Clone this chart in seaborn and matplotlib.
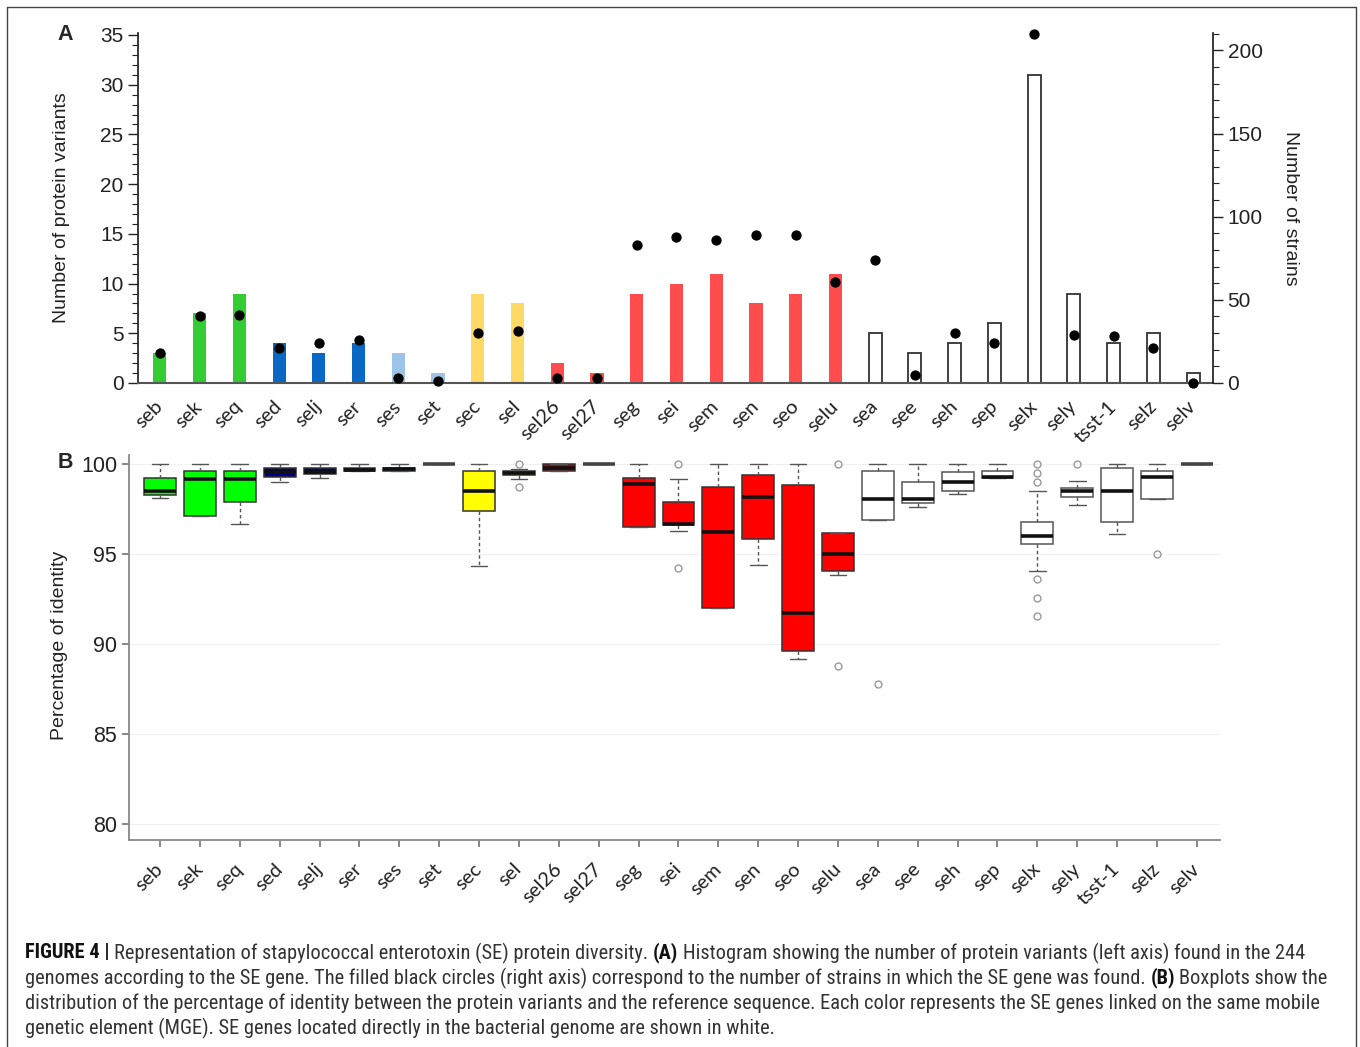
import numpy as np
import pandas as pd
import matplotlib
matplotlib.use('Agg')
import matplotlib.pyplot as plt
import seaborn as sns
from matplotlib import font_manager
from matplotlib.lines import Line2D
from matplotlib.ticker import MultipleLocator

# genes in plot order
genes = ['seb', 'sek', 'seq', 'sed', 'selj', 'ser', 'ses', 'set', 'sec', 'sel',
         'sel26', 'sel27', 'seg', 'sei', 'sem', 'sen', 'seo', 'selu', 'sea', 'see',
         'seh', 'sep', 'selx', 'sely', 'tsst-1', 'selz', 'selv']

# panel A
variants = [3, 7, 9, 4, 3, 4, 3, 1, 9, 8, 2, 1, 9, 10, 11, 8, 9, 11, 5, 3, 4, 6, 31, 9, 4, 5, 1]
strains = [18, 40, 41, 21, 24, 26, 3, 1, 30, 31, 3, 3, 83, 88, 86, 89, 89, 61, 74, 5,
           30, 24, 210, 29, 28, 21, 0]
bar_colors = (['#33cc33'] * 3 + ['#0868c4'] * 3 + ['#9dc3e6'] * 2 + ['#ffd966'] * 2
              + ['#ff4d4d'] * 8 + ['white'] * 9)

# panel B box statistics (percentage of identity)
whislo = [98.1, 97.1, 96.67, 99.0, 99.2, 99.6, 99.6, 100, 94.33, 99.17, 99.6, 100,
          96.48, 96.28, 91.98, 94.39, 89.17, 93.83, 96.89, 97.63, 98.33, 99.2, 94.06,
          97.72, 96.09, 98.04, 100]
q1 = [98.3, 97.1, 97.9, 99.3, 99.43, 99.6, 99.6, 100, 97.4, 99.39, 99.6, 100,
      96.48, 96.6, 91.98, 95.81, 89.63, 94.06, 96.89, 97.85, 98.52, 99.2, 95.54,
      98.19, 96.8, 98.04, 100]
med = [98.5, 99.17, 99.17, 99.57, 99.57, 99.65, 99.7, 100, 98.5, 99.52, 99.8, 100,
       98.87, 96.67, 96.2, 98.19, 91.7, 95.0, 98.04, 98.04, 98.98, 99.26, 96.02,
       98.52, 98.52, 99.26, 100]
q3 = [99.2, 99.6, 99.6, 99.8, 99.8, 99.8, 99.8, 100, 99.6, 99.63, 100, 100,
      99.2, 97.9, 98.74, 99.39, 98.83, 96.15, 99.63, 99.02, 99.57, 99.63, 96.76,
      98.65, 99.76, 99.63, 100]
whishi = [100, 100, 100, 100, 100, 100, 100, 100, 100, 99.7, 100, 100,
          100, 99.17, 100, 100, 100, 96.15, 100, 100, 100, 100, 98.5,
          99.07, 100, 100, 100]
fliers = [[], [], [], [], [], [], [], [], [], [100, 98.74], [], [],
          [], [100, 94.2], [], [], [], [100, 88.78], [87.8], [], [], [],
          [100, 99.48, 98.98, 93.59, 92.57, 91.57], [100], [], [94.98], []]
box_colors = (['#00ff00'] * 3 + ['#000080'] * 3 + ['#3a9ad9', 'white'] + ['#ffff00'] * 2
              + ['#c00000', 'white'] + ['#ff0000'] * 6 + ['white'] * 9)

caption = [
    [('FIGURE 4 |', True), ('Representation of stapylococcal enterotoxin (SE) protein diversity.', False),
     ('(A)', True), ('Histogram showing the number of protein variants (left axis) found in the 244', False)],
    [('genomes according to the SE gene. The filled black circles (right axis) correspond to the number '
      'of strains in which the SE gene was found.', False), ('(B)', True), ('Boxplots show the', False)],
    [('distribution of the percentage of identity between the protein variants and the reference '
      'sequence. Each color represents the SE genes linked on the same mobile', False)],
    [('genetic element (MGE). SE genes located directly in the bacterial genome are shown in white.', False)],
]

sns.set_theme(style='white')
plt.rcParams['font.family'] = ['Liberation Sans', 'DejaVu Sans']
installed = {f.name for f in font_manager.fontManager.ttflist}
cap_font = next((f for f in ['Liberation Sans Narrow', 'Roboto Condensed', 'Open Sans Condensed']
                 if f in installed), 'Liberation Sans')
lab_font = 'Lato' if 'Lato' in installed else 'Liberation Sans'

W, H = 1360, 1047
fig = plt.figure(figsize=(W / 100, H / 100), dpi=100)

def fbox(l, t, r, b):
    return [l / W, 1 - b / H, (r - l) / W, (b - t) / H]

n = len(genes)
df = pd.DataFrame({'gene': genes, 'pos': np.arange(n), 'variants': variants, 'strains': strains})

# ---------------- panel A
ax = fig.add_axes(fbox(138, 33, 1213, 383))
sns.barplot(data=df, x='gene', y='variants', hue='gene', palette=dict(zip(genes, bar_colors)),
            legend=False, width=0.33, ax=ax, saturation=1)
for bar, c in zip(ax.patches, bar_colors):
    if c == 'white':
        bar.set_edgecolor('#333333')
        bar.set_linewidth(1.3)
    else:
        bar.set_edgecolor('none')
ax.set_xlim(-0.55, n - 0.5)
ax.set_ylim(0, 35.2)
ax.yaxis.set_major_locator(MultipleLocator(5))
ax.yaxis.set_minor_locator(MultipleLocator(1))
ax.tick_params(axis='y', which='major', length=7, width=1, color='#222', labelsize=15,
               left=True, labelcolor='#222')
ax.tick_params(axis='y', which='minor', length=4, width=0.8, color='#222', left=True)
ax.set_xticks(range(n))
ax.set_xticklabels(genes, rotation=45, ha='right', va='center', rotation_mode='anchor',
                   fontsize=14.5, family=lab_font, color='#222')
ax.tick_params(axis='x', length=0, pad=15)
ax.set_xlabel('')
ax.set_ylabel('Number of protein variants', fontsize=14, color='#222')
ax.yaxis.set_label_coords(-0.063, 0.5)
for s in ['top', 'right']:
    ax.spines[s].set_visible(False)
ax.spines['left'].set_color('#222')
ax.spines['bottom'].set_color('#555')
ax.spines['bottom'].set_linewidth(1.5)

ax2 = ax.twinx()
sns.scatterplot(data=df, x='pos', y='strains', color='black', s=55, linewidth=0,
                ax=ax2, clip_on=False, zorder=5)
ax2.set_xlim(-0.55, n - 0.5)
ax2.set_ylim(0, 210.5)
ax2.yaxis.set_major_locator(MultipleLocator(50))
ax2.yaxis.set_minor_locator(MultipleLocator(10))
ax2.tick_params(axis='y', which='major', length=7, width=1, color='#222', labelsize=15,
                right=True, labelcolor='#222')
ax2.tick_params(axis='y', which='minor', length=4, width=0.8, color='#222', right=True)
ax2.set_xlabel('')
ax2.set_ylabel('Number of strains', fontsize=14, rotation=270, color='#222', va='center')
ax2.yaxis.set_label_coords(1.072, 0.5)
for s in ['top', 'left', 'bottom']:
    ax2.spines[s].set_visible(False)
ax2.spines['right'].set_color('#222')

# ---------------- panel B
bx = fig.add_axes(fbox(129, 455, 1220, 840))
stats = [dict(whislo=a, q1=b, med=c, q3=d, whishi=e, fliers=f)
         for a, b, c, d, e, f in zip(whislo, q1, med, q3, whishi, fliers)]
res = bx.bxp(stats, positions=range(n), widths=0.8, capwidths=0.42, patch_artist=True,
             boxprops=dict(edgecolor='#333', linewidth=1.1),
             medianprops=dict(color='#111', linewidth=2.6),
             whiskerprops=dict(color='#555', linestyle=(0, (2.5, 2)), linewidth=1),
             capprops=dict(color='#555', linewidth=1),
             flierprops=dict(marker='o', markerfacecolor='none', markeredgecolor='#999',
                             markersize=5, markeredgewidth=1),
             manage_ticks=False)
for patch, c in zip(res['boxes'], box_colors):
    patch.set_facecolor(c)
    if c == 'white':
        patch.set_edgecolor('#555')
for i, m in enumerate(res['medians']):
    if q1[i] == q3[i] == 100:
        m.set_color('#444')
bx.set_xlim(-0.78, n - 0.42)
bx.set_ylim(79.11, 100.5)
bx.set_yticks([80, 85, 90, 95, 100])
bx.yaxis.grid(True, color='#f0f0f0', linewidth=0.8)
bx.set_axisbelow(True)
bx.set_xticks(range(n))
bx.set_xticklabels(genes, rotation=45, ha='right', va='center', rotation_mode='anchor',
                   fontsize=14.5, family=lab_font, color='#222')
bx.tick_params(axis='x', length=5, color='#777', pad=14, bottom=True)
bx.tick_params(axis='y', length=5, color='#777', labelsize=15.5, left=True, labelcolor='#222')
bx.set_ylabel('Percentage of identity', fontsize=14, color='#222')
bx.yaxis.set_label_coords(-0.056, 0.506)
for s in ['top', 'right']:
    bx.spines[s].set_visible(False)
for s in ['left', 'bottom']:
    bx.spines[s].set_color('#888')
    bx.spines[s].set_linewidth(1.3)

fig.text(65 / W, 1 - 34 / H, 'A', fontsize=15.5, fontweight='bold', ha='center', va='center')
fig.text(65 / W, 1 - 462 / H, 'B', fontsize=15.5, fontweight='bold', ha='center', va='center')

# ---------------- caption with bold pieces
r = fig.canvas.get_renderer()

def width_of(txt, size, bold):
    t = fig.text(0, 0, txt, fontsize=size, family=cap_font,
                 fontweight='bold' if bold else 'normal')
    w = t.get_window_extent(renderer=r).width
    t.remove()
    return w

# fit the first caption line to its width in the reference
size = 10.0
w1 = sum(width_of(t, size, b) for t, b in caption[0])
sp = width_of('a a', size, False) - width_of('aa', size, False)
size = size * (1268 / (w1 + sp * (len(caption[0]) - 1)))
sp = width_of('a a', size, False) - width_of('aa', size, False)

for k, line in enumerate(caption):
    x = 25
    y = 953 + 25 * k
    for txt, bold in line:
        t = fig.text(x / W, 1 - y / H, txt, fontsize=size, family=cap_font,
                     fontweight='bold' if bold else 'normal',
                     color='#111' if bold else '#333', va='center', ha='left')
        x += t.get_window_extent(renderer=r).width + sp

# frame round the figure
for xs, ys in [([7, 7], [7, H]), ([7, 1356], [7, 7]), ([1356, 1356], [7, H])]:
    fig.add_artist(Line2D([v / W for v in xs], [1 - v / H for v in ys],
                          transform=fig.transFigure, color='#444', linewidth=1))

fig.savefig('out.png', dpi=100)
